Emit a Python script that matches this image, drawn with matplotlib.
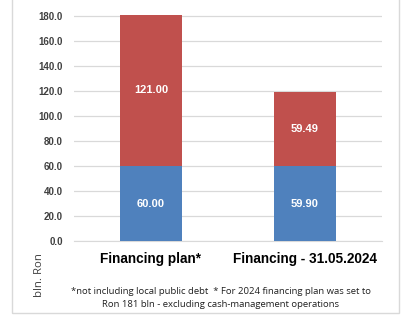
import matplotlib
matplotlib.use("Agg")
from matplotlib import pyplot as plt
from matplotlib.patches import Rectangle

categories = ["Financing plan*", "Financing - 31.05.2024"]
blue_values = [60.00, 59.90]
red_values = [121.00, 59.49]
y_ticks = [0, 20, 40, 60, 80, 100, 120, 140, 160, 180]
y_label = "bln. Ron"
footnote = ("*not including local public debt  * For 2024 financing plan was set to\n"
            "Ron 181 bln - excluding cash-management operations")

BLUE = "#4F81BD"
RED = "#C0504D"

fig = plt.figure(figsize=(4.03, 3.19), dpi=100)
fig.patch.set_facecolor("white")

# light frame around the whole chart
fig.patches.append(Rectangle((12 / 403, 6 / 319), 387 / 403, 1.2,
                             transform=fig.transFigure, fill=False,
                             edgecolor="#d9d9d9", linewidth=1.0))

ax = fig.add_axes((0.1836, 0.2445, 0.7643, 0.7093))
x = list(range(len(categories)))
ax.bar(x, blue_values, width=0.4, color=BLUE, zorder=3, clip_on=False)
ax.bar(x, red_values, width=0.4, bottom=blue_values, color=RED, zorder=3,
       clip_on=False)

for xi, b, r in zip(x, blue_values, red_values):
    ax.text(xi, b / 2, f"{b:.2f}", ha="center", va="center", color="white",
            fontsize=8, fontweight="bold", family="Liberation Sans", zorder=4)
    ax.text(xi, b + r / 2, f"{r:.2f}", ha="center", va="center", color="white",
            fontsize=8, fontweight="bold", family="Liberation Sans", zorder=4)

ax.set_xlim(-0.5, 1.5)
ax.set_ylim(0, 181)
ax.set_yticks(y_ticks)
ax.set_yticklabels([f"{t:.1f}" for t in y_ticks], fontsize=7,
                   fontweight="bold", color="#404040", family="Liberation Sans")
ax.set_xticks(x)
ax.set_xticklabels(categories, fontsize=9.8, fontweight="bold", color="black",
                   family="Liberation Sans")
ax.tick_params(axis="both", length=0)
ax.tick_params(axis="y", pad=8)
ax.tick_params(axis="x", pad=8)
ax.grid(axis="y", color="#d9d9d9", linewidth=0.9, zorder=0)
for s in ["top", "right", "left"]:
    ax.spines[s].set_visible(False)
ax.spines["bottom"].set_color("#d9d9d9")

fig.text(40 / 403, 1 - 275 / 319, y_label, rotation=90, ha="center",
         va="center", fontsize=8.2, color="#404040", family="Open Sans")
fig.text(221 / 403, 1 - 298 / 319, footnote, ha="center", va="center",
         fontsize=6.8, color="#202020", family="Open Sans", linespacing=1.45)

fig.savefig("out.png", dpi=100, facecolor="white")
